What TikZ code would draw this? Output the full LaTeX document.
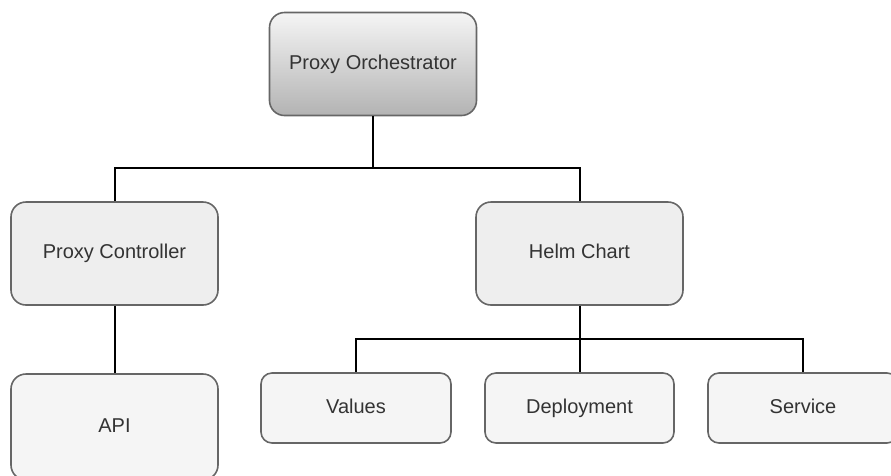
\documentclass[tikz,border=0pt]{standalone}
\usepackage{fontspec}
\setmainfont{Liberation Sans}
\definecolor{boxline}{HTML}{666666}
\definecolor{boxtext}{HTML}{333333}
\definecolor{midfill}{HTML}{EEEEEE}
\definecolor{leaffill}{HTML}{F5F5F5}
\definecolor{shadetop}{HTML}{F5F5F5}
\definecolor{shadebot}{HTML}{B3B3B3}
\tikzset{
  unitbox/.style={draw=boxline, line width=1.6pt, rounded corners=15pt,
    text=boxtext, font=\fontsize{20}{24}\selectfont, inner sep=0pt,
    text height=14.5pt, text depth=4pt},
  bigbox/.style={unitbox, minimum width=207pt, minimum height=103pt},
  leafbox/.style={unitbox, rounded corners=11pt, fill=leaffill,
    minimum width=190pt, minimum height=70pt},
  link/.style={line width=2pt, black}
}
\begin{document}
\begin{tikzpicture}[x=1pt,y=-1pt]
\useasboundingbox (0,0) rectangle (891,475);
\clip (0,0) rectangle (891,475);
\node[bigbox, top color=shadetop, bottom color=shadebot] (orch) at (373,64) {Proxy Orchestrator};
\node[bigbox, fill=midfill] (ctrl) at (114.5,253.5) {Proxy Controller};
\node[bigbox, fill=midfill] (helm) at (579.5,253.5) {Helm Chart};
\node[bigbox, fill=leaffill, minimum height=106pt] (api) at (114.5,427) {API};
\node[leafbox] (values) at (356,408) {Values};
\node[leafbox, minimum width=189pt] (deploy) at (579.5,408) {Deployment};
\node[leafbox] (service) at (803,408) {Service};
% bus lines
\coordinate (orchbus) at (373,168);
\coordinate (helmbus) at (579.5,339);
\draw[link] (orch.south) -- (orchbus) -| (ctrl.north);
\draw[link] (orchbus) -| (helm.north);
\draw[link] (ctrl.south) -- (api.north);
\draw[link] (helm.south) -- (helmbus) -| (values.north);
\draw[link] (helmbus) -- (deploy.north);
\draw[link] (helmbus) -| (service.north);
\end{tikzpicture}
\end{document}
